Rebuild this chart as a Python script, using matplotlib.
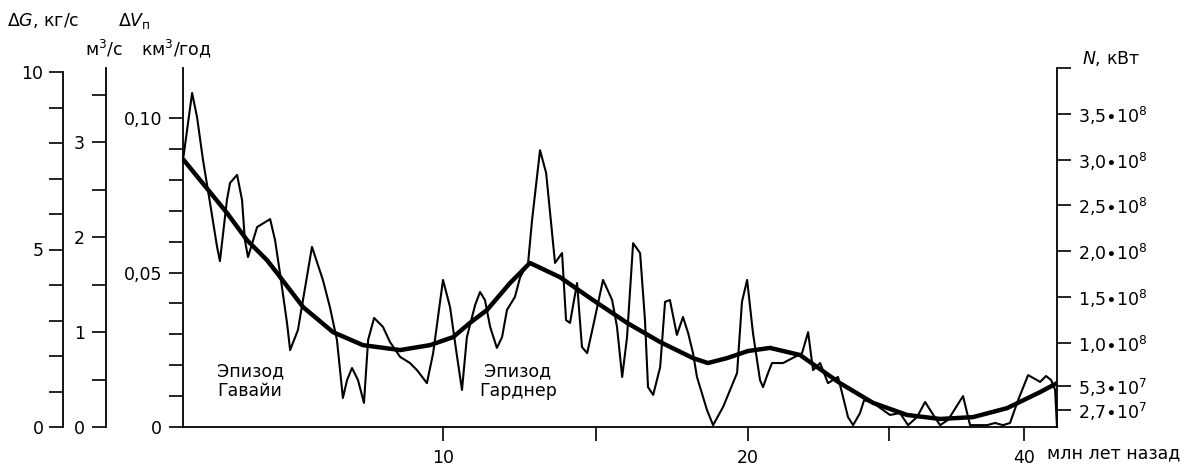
import numpy as np
import matplotlib
matplotlib.use("Agg")
import matplotlib.pyplot as plt
from matplotlib.ticker import FixedLocator, MultipleLocator, FixedFormatter, NullFormatter

plt.rcParams['font.family'] = ['DejaVu Sans']
plt.rcParams['mathtext.fontset'] = 'dejavusans'

# ---------------- data ----------------
# detailed record: age (Myr ago) vs volume flux (km^3/yr)
age_flux = [0.0, 0.35, 0.54, 0.77, 1.04, 1.31, 1.42, 1.69, 1.81, 2.08, 2.27, 2.38, 2.50,
            2.85, 3.35, 3.54, 3.73, 4.00, 4.12, 4.42, 4.96, 5.38, 5.65, 5.92, 6.15,
            6.31, 6.50, 6.73, 6.96, 7.12, 7.35, 7.69, 7.96, 8.35, 8.73, 9.00, 9.38,
            9.62, 10.00, 10.23, 10.46, 10.62, 10.78, 11.05, 11.21, 11.37, 11.54, 11.76,
            11.93, 12.09, 12.35, 12.52, 12.78, 12.91, 13.17, 13.37, 13.66, 13.89, 14.02,
            14.15, 14.38, 14.54, 14.71, 14.90, 15.23, 15.53, 15.69, 15.86, 16.02, 16.22,
            16.45, 16.61, 16.71, 16.88, 17.11, 17.27, 17.43, 17.66, 17.86, 18.03, 18.19,
            18.32, 18.65, 18.85, 19.18, 19.64, 19.80, 19.97, 20.35, 20.85, 21.06, 21.42,
            21.70, 22.48, 23.33, 23.83, 24.26, 24.61, 25.11, 25.67, 26.38, 26.74, 27.09,
            27.45, 27.94, 28.23, 28.87, 29.57, 30.07, 30.81, 31.41, 32.07, 32.67, 33.19,
            33.78, 34.37, 35.48, 36.00, 37.26, 37.85, 38.44, 38.96, 39.56, 40.30, 41.19,
            41.63, 42.00, 42.30, 42.44]
flux = [0.0864, 0.1081, 0.1003, 0.0864, 0.0725, 0.0583, 0.0537, 0.0735, 0.0790, 0.0816,
        0.0735, 0.0605, 0.0550, 0.0647, 0.0673, 0.0605, 0.0498, 0.0337, 0.0249, 0.0314,
        0.0583, 0.0476, 0.0388, 0.0282, 0.0094, 0.0152, 0.0191, 0.0152, 0.0078, 0.0282,
        0.0353, 0.0324, 0.0275, 0.0227, 0.0207, 0.0184, 0.0142, 0.0239, 0.0476, 0.0388,
        0.0227, 0.0120, 0.0291, 0.0395, 0.0437, 0.0411, 0.0324, 0.0256, 0.0291, 0.0379,
        0.0421, 0.0485, 0.0531, 0.0670, 0.0896, 0.0822, 0.0531, 0.0563, 0.0346, 0.0337,
        0.0466, 0.0259, 0.0239, 0.0324, 0.0476, 0.0411, 0.0324, 0.0162, 0.0291, 0.0595,
        0.0563, 0.0346, 0.0129, 0.0104, 0.0194, 0.0405, 0.0411, 0.0298, 0.0356, 0.0304,
        0.0239, 0.0162, 0.0055, 0.0006, 0.0065, 0.0175, 0.0405, 0.0476, 0.0304, 0.0152,
        0.0129, 0.0175, 0.0207, 0.0207, 0.0227, 0.0239, 0.0307, 0.0184, 0.0207, 0.0142,
        0.0162, 0.0097, 0.0032, 0.0006, 0.0045, 0.0087, 0.0078, 0.0055, 0.0039, 0.0045,
        0.0006, 0.0032, 0.0081, 0.0045, 0.0006, 0.0023, 0.0100, 0.0006, 0.0006, 0.0013,
        0.0006, 0.0013, 0.0087, 0.0168, 0.0146, 0.0165, 0.0152, 0.0120, 0.0]

# smoothed trend
age_trend = [0.0, 1.69, 2.46, 3.23, 3.62, 4.62, 5.77, 6.92, 8.35, 9.50, 10.33, 10.88,
             11.44, 12.19, 12.84, 13.82, 14.90, 16.02, 17.11, 18.19, 18.68, 19.31, 20.0,
             21.56, 23.69, 26.52, 28.87, 31.33, 33.78, 36.22, 38.74, 41.19, 42.44]
trend = [0.0867, 0.0693, 0.0605, 0.0540, 0.0498, 0.0388, 0.0307, 0.0265, 0.0249, 0.0265,
         0.0291, 0.0337, 0.0379, 0.0466, 0.0531, 0.0485, 0.0411, 0.0337, 0.0275, 0.0223,
         0.0207, 0.0223, 0.0246, 0.0256, 0.0233, 0.0142, 0.0078, 0.0039, 0.0026, 0.0032,
         0.0061, 0.0113, 0.0142]

x_major = [10, 20, 40]
x_major_labels = ['10', '20', '40']
x_minor = [15, 30]
x_max = 42.44
# uneven time axis of the original: ages and their relative positions
scale_ages = [0, 10, 15, 20, 30, 40, 45]
scale_pos = [0, 260, 413, 565, 706, 841, 908.5]

v_major = [0, 0.05, 0.10]
v_major_labels = ['0', '0,05', '0,10']
v_minor = [0.01, 0.02, 0.03, 0.04, 0.06, 0.07, 0.08, 0.09]
v_max = 0.1162

g_major = [0, 5, 10]
g_labels = ['0', '5', '10']
q_major = [0, 1, 2, 3]
q_labels = ['0', '1', '2', '3']
q_max = 3.78

n_ticks = [4.0e8, 3.5e8, 3.0e8, 2.5e8, 2.0e8, 1.5e8, 1.0e8, 5.3e7, 2.7e7]
n_labels = ['', '3,5∙10$^{8}$', '3,0∙10$^{8}$', '2,5∙10$^{8}$', '2,0∙10$^{8}$',
            '1,5∙10$^{8}$', '1,0∙10$^{8}$', '5,3∙10$^{7}$', '2,7∙10$^{7}$']
n_lim = (8e6, 4.0e8)

# ---------------- figure ----------------
W, H = 1189, 468
fig = plt.figure(figsize=(W / 100, H / 100), dpi=100)


def rect(x0, ytop, x1, ybot):
    return [x0 / W, 1 - ybot / H, (x1 - x0) / W, (ybot - ytop) / H]


FS = 12.5
LW_SP = 1.3

ax = fig.add_axes(rect(183, 68, 1057, 427))


def fwd(t):
    return np.interp(t, scale_ages, scale_pos)


def inv(p):
    return np.interp(p, scale_pos, scale_ages)


ax.set_xscale('function', functions=(fwd, inv))
axN = ax.twinx()
ax.set_xlim(0, x_max)
ax.set_ylim(0, v_max)
ax.plot(age_flux, flux, color='black', lw=1.5, solid_joinstyle='round', clip_on=False)
ax.plot(age_trend, trend, color='black', lw=3.2, solid_joinstyle='round', solid_capstyle='butt')

for s in ['top', 'right']:
    ax.spines[s].set_visible(False)
for s in ['left', 'bottom']:
    ax.spines[s].set_linewidth(LW_SP)
ax.xaxis.set_major_locator(FixedLocator(x_major))
ax.xaxis.set_major_formatter(FixedFormatter(x_major_labels))
ax.xaxis.set_minor_locator(FixedLocator(x_minor))
ax.xaxis.set_minor_formatter(NullFormatter())
ax.yaxis.set_major_locator(FixedLocator(v_major))
ax.yaxis.set_major_formatter(FixedFormatter(v_major_labels))
ax.yaxis.set_minor_locator(FixedLocator(v_minor))
ax.tick_params(which='both', direction='out', length=10, width=1.2, labelsize=FS, pad=5)
ax.tick_params(axis='x', which='both', pad=6)

ax.text(1.31, 0.0149, 'Эпизод\nГавайи', fontsize=FS, ha='left', va='center',
        multialignment='left', linespacing=1.15)
ax.text(12.45, 0.0149, 'Эпизод\nГарднер', fontsize=FS, ha='center', va='center',
        multialignment='center', linespacing=1.15)

# right axis: power
axN.set_ylim(*n_lim)
for s in ['top', 'left', 'bottom']:
    axN.spines[s].set_visible(False)
axN.spines['right'].set_linewidth(LW_SP)
axN.yaxis.set_major_locator(FixedLocator(n_ticks))
axN.yaxis.set_major_formatter(FixedFormatter(n_labels))
axN.tick_params(axis='y', direction='out', length=10, width=1.2, labelsize=FS, pad=5)
axN.tick_params(axis='x', which='both', bottom=False, top=False, labelbottom=False, labeltop=False)

# left axes
axG = fig.add_axes(rect(63, 72, 64, 427))
axG.set_ylim(0, 10)
axG.patch.set_visible(False)
for s in ['top', 'right', 'bottom']:
    axG.spines[s].set_visible(False)
axG.spines['left'].set_linewidth(LW_SP)
axG.set_xticks([])
axG.yaxis.set_major_locator(FixedLocator(g_major))
axG.yaxis.set_major_formatter(FixedFormatter(g_labels))
axG.yaxis.set_minor_locator(MultipleLocator(1))
axG.tick_params(which='both', direction='out', length=10, width=1.2, labelsize=FS, pad=4)

axQ = fig.add_axes(rect(106, 68, 107, 427))
axQ.set_ylim(0, q_max)
axQ.patch.set_visible(False)
for s in ['top', 'right', 'bottom']:
    axQ.spines[s].set_visible(False)
axQ.spines['left'].set_linewidth(LW_SP)
axQ.set_xticks([])
axQ.yaxis.set_major_locator(FixedLocator(q_major))
axQ.yaxis.set_major_formatter(FixedFormatter(q_labels))
axQ.yaxis.set_minor_locator(MultipleLocator(0.5))
axQ.tick_params(which='both', direction='out', length=10, width=1.2, labelsize=FS, pad=5)

# headers
def ftext(x, y, s, **kw):
    fig.text(x / W, 1 - y / H, s, fontsize=FS, **kw)

ftext(7, 21, r'$\Delta \mathit{G}$, кг/с', ha='left', va='center')
ftext(118, 21, r'$\Delta \mathit{V}_{\mathrm{п}}$', ha='left', va='center')
ftext(85, 49, r'м$^{3}$/с', ha='left', va='center')
ftext(141, 49, r'км$^{3}$/год', ha='left', va='center')
ftext(1082, 58, r'$\mathit{N}$, кВт', ha='left', va='center')
ftext(1047, 453, 'млн лет назад', ha='left', va='center')

fig.savefig('out.png', dpi=100)
